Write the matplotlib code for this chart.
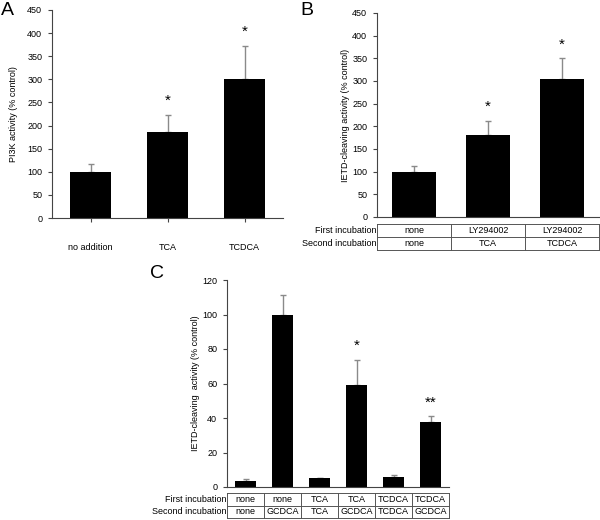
import matplotlib
matplotlib.use("Agg")
import matplotlib.pyplot as plt
import numpy as np

plt.rcParams['font.family'] = ['Liberation Sans', 'DejaVu Sans']

# panel A
a_labels = ["no addition", "TCA", "TCDCA"]
a_values = [100, 187, 301]
a_errors = [17, 36, 72]
a_stars = ["", "*", "*"]

# panel B
b_values = [100, 180, 305]
b_errors = [12, 32, 45]
b_stars = ["", "*", "*"]
b_first = ["none", "LY294002", "LY294002"]
b_second = ["none", "TCA", "TCDCA"]

# panel C
c_values = [3.5, 100, 5, 59, 6, 37.5]
c_errors = [1.0, 11.5, 0, 14.5, 0.8, 3.5]
c_stars = ["", "", "", "*", "", "**"]
c_first = ["none", "none", "TCA", "TCA", "TCDCA", "TCDCA"]
c_second = ["none", "GCDCA", "TCA", "GCDCA", "TCDCA", "GCDCA"]

W, H = 600, 520
fig = plt.figure(figsize=(6, 5.2), dpi=100)

TXT = 6.5


def add_ax(left, right, top, bottom):
    # pixel box -> figure fraction
    return fig.add_axes([left / W, (H - bottom) / H, (right - left) / W, (bottom - top) / H])


def bar_panel(ax, values, errors, stars, ymax, step, width, ylabel, lpad):
    x = np.arange(len(values))
    ax.bar(x, values, width=width, color="black", zorder=2)
    ax.errorbar(x, values, yerr=[np.zeros(len(values)), errors], fmt="none",
                ecolor="#8a8a8a", elinewidth=1, capsize=2, capthick=1, zorder=1)
    for xi, v, e, s in zip(x, values, errors, stars):
        if s:
            ax.annotate(s, (xi, v + e), xytext=(0, 5), textcoords="offset points",
                        ha="center", va="bottom", fontsize=11)
    ax.set_xlim(-0.5, len(values) - 0.5)
    ax.set_ylim(0, ymax)
    ax.set_yticks(np.arange(0, ymax + 1, step))
    ax.tick_params(axis="y", labelsize=TXT, length=3, width=0.8, direction="out", pad=4)
    ax.set_ylabel(ylabel, fontsize=TXT, labelpad=lpad)
    for s in ["top", "right"]:
        ax.spines[s].set_visible(False)
    for s in ["left", "bottom"]:
        ax.spines[s].set_linewidth(0.8)
        ax.spines[s].set_color("#444444")
    ax.tick_params(colors="#444444", labelcolor="black")


def draw_table(ax, rows, row_labels, ax_h, top_px, row_px):
    n = len(rows[0])
    lc = "#555555"
    ys = [-(top_px + i * row_px) / ax_h for i in range(len(rows) + 1)]
    for y in ys:
        ax.plot([0, 1], [y, y], transform=ax.transAxes, color=lc, lw=0.7, clip_on=False)
    for k in range(n + 1):
        ax.plot([k / n, k / n], [ys[0], ys[-1]], transform=ax.transAxes, color=lc,
                lw=0.7, clip_on=False)
    for r, (row, lab) in enumerate(zip(rows, row_labels)):
        yc = (ys[r] + ys[r + 1]) / 2
        ax.text(-0.003, yc, lab, transform=ax.transAxes, ha="right", va="center", fontsize=TXT)
        for k, txt in enumerate(row):
            ax.text((k + 0.5) / n, yc, txt, transform=ax.transAxes, ha="center",
                    va="center", fontsize=TXT)


# A
axA = add_ax(52, 283, 10, 218)
bar_panel(axA, a_values, a_errors, a_stars, 450, 50, 0.52, "PI3K activity (% control)", 7)
axA.set_xticks(np.arange(len(a_labels)))
axA.set_xticklabels(a_labels, fontsize=TXT)
axA.tick_params(axis="x", length=3, width=0.8, pad=15)
fig.text(1 / W, 1 - 15 / H, "A", fontsize=14)

# B
axB = add_ax(377, 599, 13, 217)
bar_panel(axB, b_values, b_errors, b_stars, 450, 50, 0.6,
          "IETD-cleaving activity (% control)", 2)
axB.set_xticks([])
draw_table(axB, [b_first, b_second], ["First incubation", "Second incubation"], 204, 7, 13)
fig.text(300 / W, 1 - 15 / H, "B", fontsize=14)

# C
axC = add_ax(227, 449, 280, 487)
bar_panel(axC, c_values, c_errors, c_stars, 120, 20, 0.57,
          "IETD-cleaving  activity (% control)", 2)
axC.set_xticks([])
draw_table(axC, [c_first, c_second], ["First incubation", "Second incubation"], 207, 6, 12.5)
fig.text(150 / W, 1 - 278 / H, "C", fontsize=14)

fig.savefig("out.png", dpi=100)
